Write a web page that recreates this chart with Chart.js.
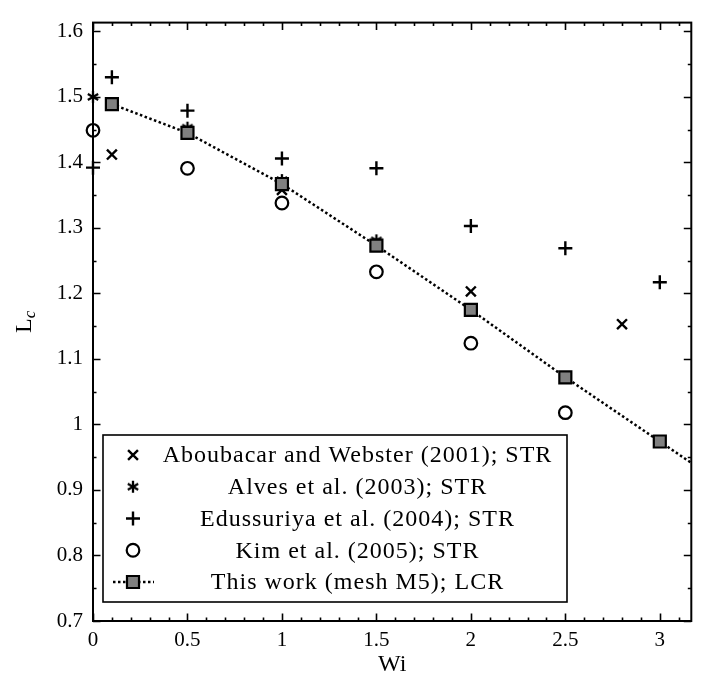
<!DOCTYPE html>
<html>
<head>
<meta charset="utf-8">
<script src="https://cdn.jsdelivr.net/npm/chart.js@4.4.1/dist/chart.umd.min.js"></script>
<style>
  html, body { margin: 0; padding: 0; background: #fff; }
  #wrap { width: 702px; height: 679px; }
</style>
</head>
<body>
<div id="wrap"><canvas id="lc-chart" width="702" height="679"></canvas></div>
<script>
// data
const wiAboubacar = [0.1, 1.0, 2.0, 2.8];
const lcAboubacar = [1.412, 1.358, 1.203, 1.153];

const wiAlves = [0, 0.5, 1.0, 1.5];
const lcAlves = [1.5, 1.453, 1.373, 1.281];

const wiEdussuriya = [0, 0.1, 0.5, 1.0, 1.5, 2.0, 2.5, 3.0];
const lcEdussuriya = [1.392, 1.530, 1.479, 1.406, 1.391, 1.303, 1.269, 1.217];

const wiKim = [0, 0.5, 1.0, 1.5, 2.0, 2.5];
const lcKim = [1.449, 1.391, 1.338, 1.233, 1.124, 1.018];

const wiThisWork = [0.1, 0.5, 1.0, 1.5, 2.0, 2.5, 3.0, 3.5];
const lcThisWork = [1.489, 1.445, 1.367, 1.273, 1.175, 1.072, 0.974, 0.876];

const seriesLabels = [
  "Aboubacar and Webster (2001); STR",
  "Alves et al. (2003); STR",
  "Edussuriya et al. (2004); STR",
  "Kim et al. (2005); STR",
  "This work (mesh M5); LCR",
];

const serif = "'Liberation Serif', 'DejaVu Serif', serif";

function toPoints(xs, ys) {
  return xs.map((x, i) => ({ x: x, y: ys[i] }));
}

// plain number labels: 1 instead of 1.0
function tickText(value) {
  return String(Number(value.toFixed(2)));
}

// six-armed asterisk marker
function makeAsterisk() {
  const c = document.createElement("canvas");
  c.width = 14;
  c.height = 14;
  const g = c.getContext("2d");
  g.strokeStyle = "#000";
  g.lineWidth = 2.3;
  g.lineCap = "butt";
  const r = 6;
  [90, 30, 150].forEach((deg) => {
    const a = (deg * Math.PI) / 180;
    g.beginPath();
    g.moveTo(7 - r * Math.cos(a), 7 - r * Math.sin(a));
    g.lineTo(7 + r * Math.cos(a), 7 + r * Math.sin(a));
    g.stroke();
  });
  return c;
}
const asterisk = makeAsterisk();

const markerOpts = [
  { pointStyle: "crossRot", radius: 7, borderWidth: 2.4, fill: "transparent" },
  { pointStyle: asterisk, radius: 6, borderWidth: 0, fill: "transparent" },
  { pointStyle: "cross", radius: 7, borderWidth: 2.4, fill: "transparent" },
  { pointStyle: "circle", radius: 6.3, borderWidth: 2.2, fill: "transparent" },
  { pointStyle: "rect", radius: 8.5, borderWidth: 2.2, fill: "#808080" },
];

function scatterSet(i, xs, ys) {
  const m = markerOpts[i];
  return {
    label: seriesLabels[i],
    data: toPoints(xs, ys),
    showLine: false,
    pointStyle: m.pointStyle,
    pointRadius: m.radius,
    pointHoverRadius: m.radius,
    pointBorderWidth: m.borderWidth,
    pointBorderColor: "#000",
    pointBackgroundColor: m.fill,
    clip: false,
    order: 1,
  };
}

// frame with inward ticks on all four sides
const frameTicks = {
  id: "frameTicks",
  beforeDatasetsDraw(chart) {
    const ctx = chart.ctx;
    const a = chart.chartArea;
    const xs = chart.scales.x;
    const ys = chart.scales.y;
    ctx.save();
    ctx.strokeStyle = "#000";
    ctx.lineWidth = 1.6;
    for (let k = 0; k * 0.1 <= xs.max + 1e-9; k++) {
      const px = Math.round(xs.getPixelForValue(k * 0.1)) + 0.5;
      const len = k % 5 === 0 ? 7.5 : 3.5;
      ctx.beginPath();
      ctx.moveTo(px, a.bottom);
      ctx.lineTo(px, a.bottom - len);
      ctx.moveTo(px, a.top);
      ctx.lineTo(px, a.top + len);
      ctx.stroke();
    }
    for (let k = 0; 0.7 + k * 0.05 <= ys.max + 1e-9; k++) {
      const py = Math.round(ys.getPixelForValue(0.7 + k * 0.05)) + 0.5;
      const len = k % 2 === 0 ? 7.5 : 3.5;
      ctx.beginPath();
      ctx.moveTo(a.left, py);
      ctx.lineTo(a.left + len, py);
      ctx.moveTo(a.right, py);
      ctx.lineTo(a.right - len, py);
      ctx.stroke();
    }
    ctx.lineWidth = 2;
    ctx.strokeRect(a.left, a.top, a.right - a.left, a.bottom - a.top);

    // y title: L with subscript c
    ctx.translate(27, (a.top + a.bottom) / 2);
    ctx.rotate(-Math.PI / 2);
    ctx.fillStyle = "#000";
    ctx.textBaseline = "alphabetic";
    ctx.textAlign = "left";
    ctx.font = "24px " + serif;
    const wL = ctx.measureText("L").width;
    ctx.font = "italic 17px " + serif;
    const wc = ctx.measureText("c").width;
    const x0 = -(wL + wc) / 2;
    ctx.font = "24px " + serif;
    ctx.fillText("L", x0, 4);
    ctx.font = "italic 17px " + serif;
    ctx.fillText("c", x0 + wL, 8);
    ctx.restore();
  },
  afterDraw(chart) {
    const ctx = chart.ctx;
    const a = chart.chartArea;
    const box = { left: a.left + 10, top: 435, right: 567, bottom: 602 };
    ctx.save();
    ctx.fillStyle = "#fff";
    ctx.fillRect(box.left, box.top, box.right - box.left, box.bottom - box.top);
    ctx.strokeStyle = "#000";
    ctx.lineWidth = 1.6;
    ctx.strokeRect(box.left, box.top, box.right - box.left, box.bottom - box.top);

    const mx = 133;
    const textCenter = 357.5;
    chart.data.datasets.forEach((ds, i) => {
      const y = 455 + i * 31.75;
      const m = markerOpts[i];
      if (ds.showLine) {
        ctx.save();
        ctx.setLineDash([2.5, 2.5]);
        ctx.lineWidth = 2.5;
        ctx.beginPath();
        ctx.moveTo(box.left + 10, y);
        ctx.lineTo(mx + 21, y);
        ctx.stroke();
        ctx.restore();
      }
      ctx.save();
      ctx.fillStyle = m.fill;
      ctx.strokeStyle = "#000";
      ctx.lineWidth = m.borderWidth;
      Chart.helpers.drawPoint(ctx, {
        pointStyle: m.pointStyle,
        radius: m.radius,
        borderWidth: m.borderWidth,
        rotation: 0,
      }, mx, y);
      ctx.restore();

      ctx.fillStyle = "#000";
      ctx.font = "24px " + serif;
      ctx.letterSpacing = "1px";
      ctx.textAlign = "center";
      ctx.textBaseline = "middle";
      ctx.fillText(ds.label, textCenter, y + 1);
    });
    ctx.restore();
  },
};

const ctx = document.getElementById("lc-chart").getContext("2d");

new Chart(ctx, {
  type: "scatter",
  data: {
    datasets: [
      scatterSet(0, wiAboubacar, lcAboubacar),
      scatterSet(1, wiAlves, lcAlves),
      scatterSet(2, wiEdussuriya, lcEdussuriya),
      scatterSet(3, wiKim, lcKim),
      {
        label: seriesLabels[4],
        data: toPoints(wiThisWork, lcThisWork),
        showLine: true,
        borderColor: "#000",
        borderWidth: 2.5,
        borderDash: [2.5, 2.5],
        tension: 0,
        pointStyle: "rect",
        pointRadius: 8.5,
        pointHoverRadius: 8.5,
        pointBorderWidth: 2.2,
        pointBorderColor: "#000",
        pointBackgroundColor: "#808080",
        order: 0,
      },
    ],
  },
  options: {
    responsive: false,
    animation: false,
    events: [],
    layout: {
      padding: { top: 6, right: 1, left: 0, bottom: 0 },
    },
    plugins: {
      legend: { display: false },
      tooltip: { enabled: false },
    },
    scales: {
      x: {
        type: "linear",
        min: 0,
        max: 3.1667,
        border: { display: false },
        grid: { display: false, drawTicks: false },
        ticks: {
          stepSize: 0.5,
          includeBounds: false,
          padding: 7,
          color: "#000",
          maxRotation: 0,
          font: { family: serif, size: 21 },
          callback: tickText,
        },
        title: {
          display: true,
          text: "Wi",
          color: "#000",
          padding: { top: 0, bottom: 0 },
          font: { family: serif, size: 24 },
        },
        afterFit(scale) {
          scale.height = 58;
        },
      },
      y: {
        type: "linear",
        min: 0.7,
        max: 1.6134,
        border: { display: false },
        grid: { display: false, drawTicks: false },
        ticks: {
          stepSize: 0.1,
          includeBounds: false,
          padding: 10,
          color: "#000",
          font: { family: serif, size: 21 },
          callback: tickText,
        },
        afterFit(scale) {
          scale.width = 93;
        },
      },
    },
  },
  plugins: [frameTicks],
});
</script>
</body>
</html>
